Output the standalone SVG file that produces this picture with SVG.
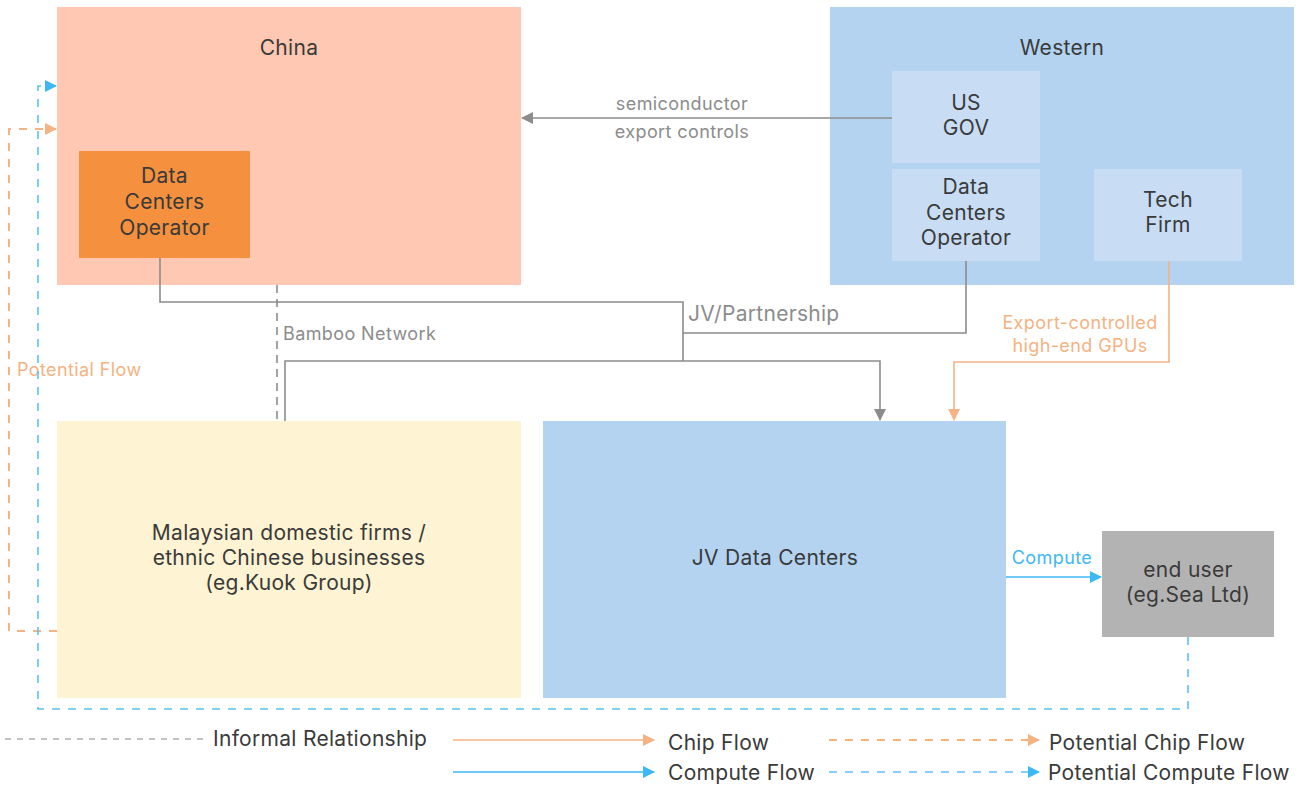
<svg xmlns="http://www.w3.org/2000/svg" width="1302" height="787" viewBox="0 0 1302 787">
<style>
text{font-family:Inter,"Liberation Sans",sans-serif;letter-spacing:0.3px;}
.t{font-size:21px;fill:#3a3a3a;text-anchor:middle;}
.l{font-size:18px;fill:#8c8c8c;letter-spacing:0.4px;}
.lg{font-size:21px;fill:#3a3a3a;}
.g{stroke:#8c8c8c;stroke-width:1.6;fill:none;}
.gd{stroke:#8c8c8c;stroke-width:1.6;fill:none;stroke-dasharray:8 6;}
.o{stroke:#f5b282;stroke-width:1.6;fill:none;}
.od{stroke:#f5b282;stroke-width:2;fill:none;stroke-dasharray:8 8;}
.b{stroke:#3db8f5;stroke-width:1.6;fill:none;}
.bd{stroke:#5cc2f5;stroke-width:1.6;fill:none;stroke-dasharray:8 8;}
</style>
<defs>
<marker id="ag" markerWidth="12" markerHeight="12" refX="11" refY="6" orient="auto" markerUnits="userSpaceOnUse"><path d="M0,0 L12,6 L0,12 Z" fill="#8c8c8c"/></marker>
<marker id="ao" markerWidth="12" markerHeight="12" refX="11" refY="6" orient="auto" markerUnits="userSpaceOnUse"><path d="M0,0 L12,6 L0,12 Z" fill="#f5b282"/></marker>
<marker id="ab" markerWidth="12" markerHeight="12" refX="11" refY="6" orient="auto" markerUnits="userSpaceOnUse"><path d="M0,0 L12,6 L0,12 Z" fill="#3db8f5"/></marker>
</defs>
<g id="china">
<rect x="57" y="7" width="464" height="278" fill="#fec8b2"/>
<text class="t" x="289" y="55">China</text>
</g>
<g id="china-dc">
<rect x="79" y="151" width="171" height="107" fill="#f5913e"/>
<text class="t" x="164.5" y="183">Data</text>
<text class="t" x="164.5" y="209">Centers</text>
<text class="t" x="164.5" y="235">Operator</text>
</g>
<g id="western">
<rect x="830" y="7" width="464" height="278" fill="#b3d3f1"/>
<text class="t" x="1062" y="55">Western</text>
</g>
<g id="usgov">
<rect x="892" y="71" width="148" height="92" fill="#c8ddf4"/>
<text class="t" x="966" y="110">US</text>
<text class="t" x="966" y="135">GOV</text>
</g>
<g id="western-dc">
<rect x="892" y="169" width="148" height="92" fill="#c8ddf4"/>
<text class="t" x="966" y="194">Data</text>
<text class="t" x="966" y="220">Centers</text>
<text class="t" x="966" y="245">Operator</text>
</g>
<g id="techfirm">
<rect x="1094" y="169" width="148" height="92" fill="#c8ddf4"/>
<text class="t" x="1168" y="207">Tech</text>
<text class="t" x="1168" y="232">Firm</text>
</g>
<g id="malaysian">
<rect x="57" y="421" width="464" height="277" fill="#fef3d2"/>
<text class="t" x="289" y="540">Malaysian domestic firms /</text>
<text class="t" x="289" y="565">ethnic Chinese businesses</text>
<text class="t" x="289" y="590">(eg.Kuok Group)</text>
</g>
<g id="jv">
<rect x="543" y="421" width="463" height="277" fill="#b3d3f1"/>
<text class="t" x="775" y="565">JV Data Centers</text>
</g>
<g id="enduser">
<rect x="1102" y="531" width="172" height="106" fill="#b3b3b3"/>
<text class="t" x="1188" y="577">end user</text>
<text class="t" x="1188" y="602">(eg.Sea Ltd)</text>
</g>
<g id="connectors">
<path class="g" d="M892,118 H522" marker-end="url(#ag)"/>
<text class="l" x="682" y="110" text-anchor="middle">semiconductor</text>
<text class="l" x="682" y="138" text-anchor="middle">export controls</text>
<path class="g" d="M160,258 V302 H683 V361"/>
<path class="g" d="M966,261 V333 H683"/>
<path class="g" d="M285,421 V361 H880 V420" marker-end="url(#ag)"/>
<text x="688" y="321" style="font-size:21px;fill:#8c8c8c">JV/Partnership</text>
<path class="gd" d="M277,285 V421"/>
<text class="l" x="283" y="340">Bamboo Network</text>
<path class="o" d="M1169,261 V362 H954 V420" marker-end="url(#ao)"/>
<text x="1080" y="329" text-anchor="middle" style="font-size:18px;fill:#f5b282;letter-spacing:0.4px">Export-controlled</text>
<text x="1080" y="352" text-anchor="middle" style="font-size:18px;fill:#f5b282;letter-spacing:0.4px">high-end GPUs</text>
<path class="b" d="M1006,577 H1101" marker-end="url(#ab)"/>
<text x="1052" y="564" text-anchor="middle" style="font-size:18px;fill:#3db8f5;letter-spacing:0.4px">Compute</text>
<path class="od" d="M57,631 H9 V129 H56" marker-end="url(#ao)"/>
<text x="17" y="376" style="font-size:18px;fill:#f5b282;letter-spacing:0.4px">Potential Flow</text>
<path class="bd" d="M1188,637 V709 H38 V86 H56" marker-end="url(#ab)"/>
</g>
<g id="legend">
<path d="M5,739 H205" stroke="#b0b0b0" stroke-width="1.4" stroke-dasharray="6 6" fill="none"/>
<text class="lg" x="213" y="746">Informal Relationship</text>
<path class="o" d="M453,740 H654" marker-end="url(#ao)"/>
<text class="lg" x="668" y="750">Chip Flow</text>
<path class="od" d="M829,740 H1039" marker-end="url(#ao)"/>
<text class="lg" x="1049" y="750">Potential Chip Flow</text>
<path class="b" d="M453,772 H654" marker-end="url(#ab)"/>
<text class="lg" x="668" y="780">Compute Flow</text>
<path class="bd" d="M829,772 H1039" marker-end="url(#ab)"/>
<text class="lg" x="1048" y="780">Potential Compute Flow</text>
</g>
</svg>
